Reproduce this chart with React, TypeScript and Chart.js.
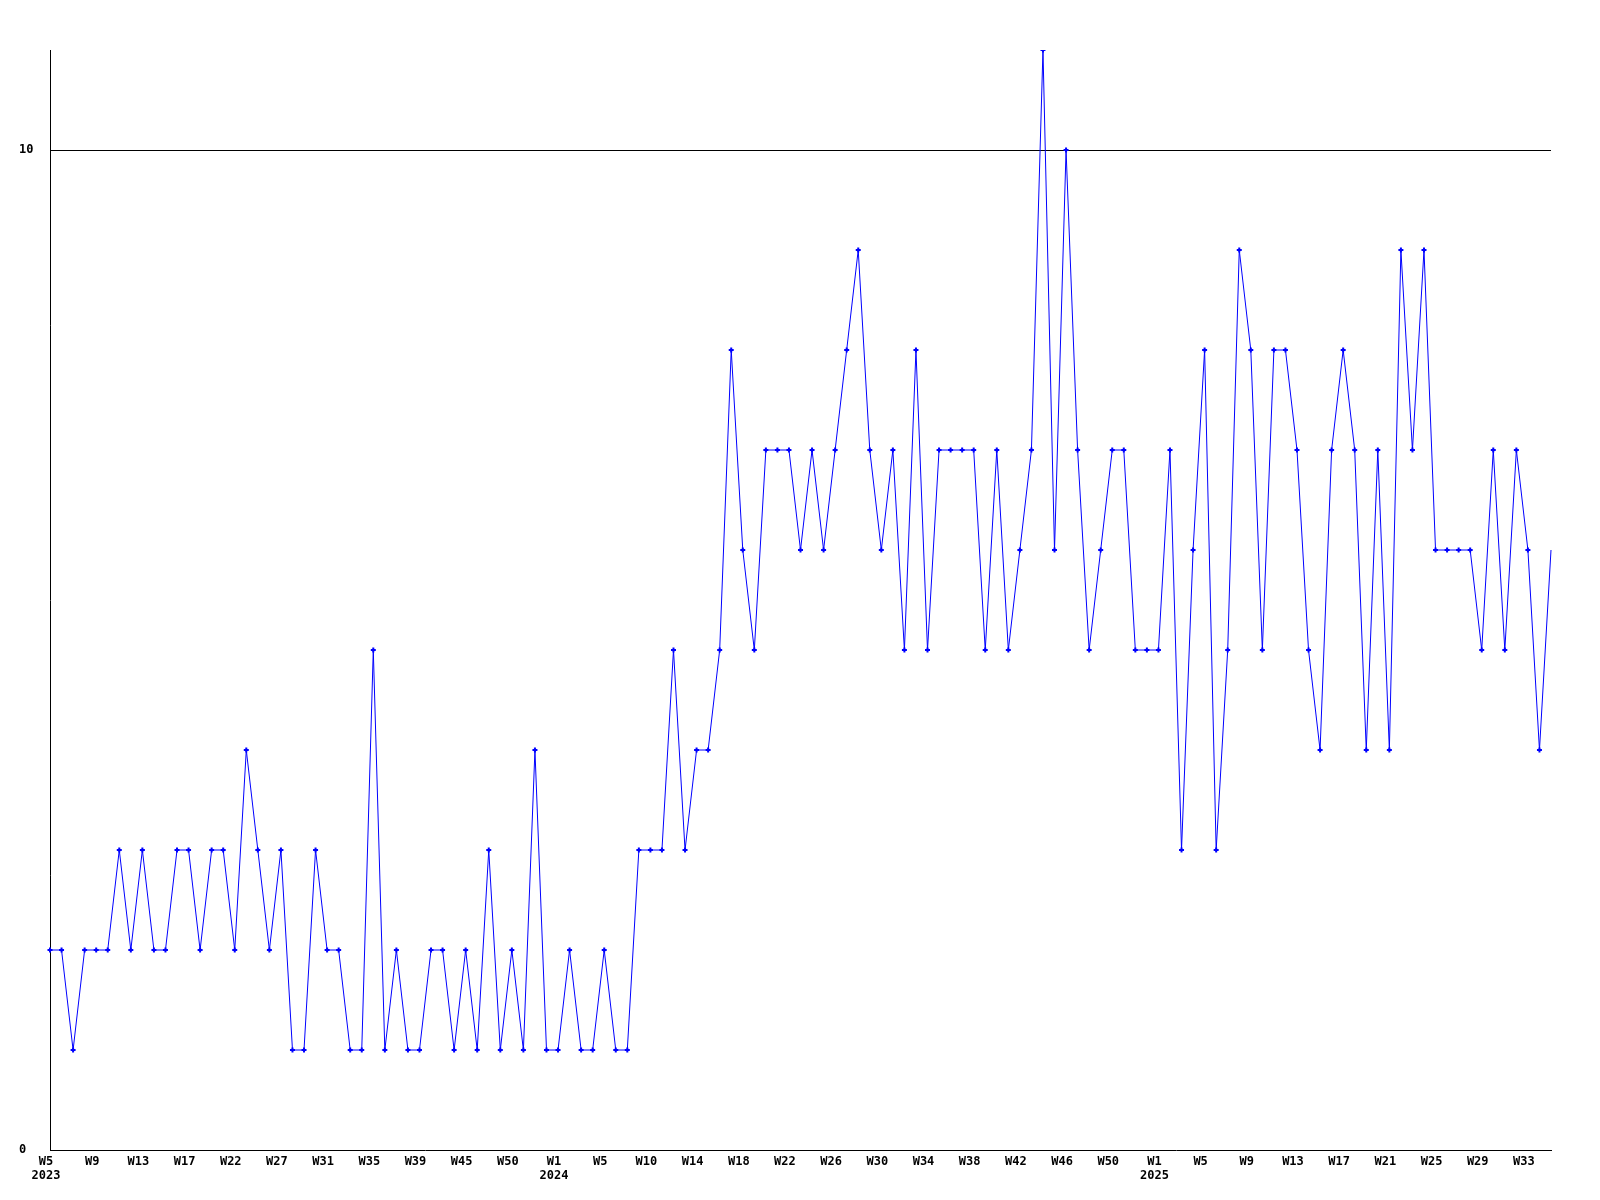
import React, { useEffect, useRef } from 'react';
import { Chart, registerables } from 'chart.js';

Chart.register(...registerables);

// Week categories per year (only every 4th label is shown on the axis)
const weeks2023 = [
  'W5', 'W6', 'W7', 'W8', 'W9', 'W10', 'W11', 'W12', 'W13', 'W14', 'W15', 'W16',
  'W17', 'W18', 'W19', 'W20', 'W22', 'W23', 'W24', 'W25', 'W27', 'W28', 'W29', 'W30',
  'W31', 'W32', 'W33', 'W34', 'W35', 'W36', 'W37', 'W38', 'W39', 'W40', 'W41', 'W42',
  'W45', 'W46', 'W47', 'W48', 'W50', 'W51', 'W52', 'W53',
];
const weeks2024 = [
  'W1', 'W2', 'W3', 'W4', 'W5', 'W6', 'W7', 'W8', 'W10', 'W11', 'W12', 'W13',
  'W14', 'W15', 'W16', 'W17', 'W18', 'W19', 'W20', 'W21', 'W22', 'W23', 'W24', 'W25',
  'W26', 'W27', 'W28', 'W29', 'W30', 'W31', 'W32', 'W33', 'W34', 'W35', 'W36', 'W37',
  'W38', 'W39', 'W40', 'W41', 'W42', 'W43', 'W44', 'W45', 'W46', 'W47', 'W48', 'W49',
  'W50', 'W51', 'W52', 'W53',
];
const weeks2025 = [
  'W1', 'W2', 'W3', 'W4', 'W5', 'W6', 'W7', 'W8', 'W9', 'W10', 'W11', 'W12',
  'W13', 'W14', 'W15', 'W16', 'W17', 'W18', 'W19', 'W20', 'W21', 'W22', 'W23', 'W24',
  'W25', 'W26', 'W27', 'W28', 'W29', 'W30', 'W31', 'W32', 'W33', 'W34', 'W35',
];
const years = ['2023', '2024', '2025'];

const values = [
  2, 2, 1, 2, 2, 2, 3, 2, 3, 2, 2, 3, 3, 2, 3, 3, 2, 4, 3, 2,
  3, 1, 1, 3, 2, 2, 1, 1, 5, 1, 2, 1, 1, 2, 2, 1, 2, 1, 3, 1,
  2, 1, 4, 1, 1, 2, 1, 1, 2, 1, 1, 3, 3, 3, 5, 3, 4, 4, 5, 8,
  6, 5, 7, 7, 7, 6, 7, 6, 7, 8, 9, 7, 6, 7, 5, 8, 5, 7, 7, 7,
  7, 5, 7, 5, 6, 7, 11, 6, 10, 7, 5, 6, 7, 7, 5, 5, 5, 7, 3, 6,
  8, 3, 5, 9, 8, 5, 8, 8, 7, 5, 4, 7, 8, 7, 4, 7, 4, 9, 7, 9,
  6, 6, 6, 6, 5, 7, 5, 7, 6, 4, 6,
];

const yTicks = [0, 10];
const yMin = 0;
const yMax = 11;

const weekLabels: string[] = [...weeks2023, ...weeks2024, ...weeks2025];
const yearStarts: Record<number, string> = {
  0: years[0],
  [weeks2023.length]: years[1],
  [weeks2023.length + weeks2024.length]: years[2],
};

export default function App() {
  const canvasRef = useRef<HTMLCanvasElement | null>(null);

  useEffect(() => {
    const canvas = canvasRef.current;
    if (!canvas) return;
    const font = { family: 'DejaVu Sans Mono', size: 12, weight: 'bold' as const, lineHeight: 1.17 };
    const last = values.length - 1;
    const chart = new Chart(canvas, {
      type: 'line',
      data: {
        labels: weekLabels,
        datasets: [
          {
            data: values,
            borderColor: '#0000ff',
            backgroundColor: '#0000ff',
            borderWidth: 1,
            tension: 0,
            fill: false,
            pointStyle: 'cross',
            pointRadius: (ctx: any) => (ctx.dataIndex === last ? 0 : 2.5),
            pointBorderWidth: 2,
            pointBorderColor: '#0000ff',
            pointBackgroundColor: '#0000ff',
          },
        ],
      },
      options: {
        animation: false,
        responsive: false,
        maintainAspectRatio: false,
        layout: { padding: { left: 19, top: 50, right: 49, bottom: 0 } },
        plugins: {
          legend: { display: false },
          tooltip: { enabled: false },
        },
        scales: {
          x: {
            type: 'category',
            offset: false,
            grid: { display: false, drawTicks: false },
            border: { display: true, color: '#000000', width: 1 },
            ticks: {
              autoSkip: false,
              maxRotation: 0,
              minRotation: 0,
              padding: 5,
              labelOffset: -4,
              color: '#000000',
              font,
              callback: (_v: any, index: number) => {
                if (index % 4 !== 0) return null;
                const w = weekLabels[index];
                const y = yearStarts[index];
                return y ? [w, y] : w;
              },
            },
            afterFit: (s: any) => {
              s.height = 50;
            },
          },
          y: {
            min: yMin,
            max: yMax,
            afterBuildTicks: (s: any) => {
              s.ticks = yTicks.map((v) => ({ value: v }));
            },
            grid: {
              drawTicks: false,
              lineWidth: 1,
              color: (ctx: any) =>
                ctx.tick && ctx.tick.value === 10 ? '#000000' : 'rgba(0,0,0,0)',
            },
            border: { display: true, color: '#000000', width: 1 },
            ticks: {
              crossAlign: 'far',
              padding: 0,
              color: '#000000',
              font,
            },
            afterFit: (s: any) => {
              s.width = 31;
            },
          },
        },
      },
    });
    return () => chart.destroy();
  }, []);

  return (
    <div style={{ position: 'absolute', left: 0, top: 0, width: 1600, height: 1200, background: '#ffffff' }}>
      <canvas ref={canvasRef} width={1600} height={1200} style={{ display: 'block', width: 1600, height: 1200 }} />
    </div>
  );
}
